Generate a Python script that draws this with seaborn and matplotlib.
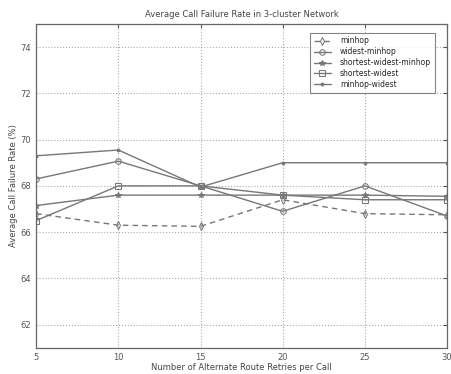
import matplotlib
matplotlib.use("Agg")
import matplotlib.pyplot as plt
import seaborn as sns
import pandas as pd

retries = [5, 10, 15, 20, 25, 30]

minhop = [66.8, 66.3, 66.25, 67.4, 66.8, 66.75]
widest_minhop = [68.3, 69.07, 68.0, 66.9, 68.0, 66.7]
shortest_widest_minhop = [67.15, 67.6, 67.6, 67.6, 67.6, 67.55]
shortest_widest = [66.5, 68.0, 68.0, 67.6, 67.4, 67.4]
minhop_widest = [69.3, 69.55, 67.95, 69.0, 69.0, 69.0]

series_names = ["minhop", "widest-minhop", "shortest-widest-minhop",
                "shortest-widest", "minhop-widest"]
series_values = [minhop, widest_minhop, shortest_widest_minhop,
                 shortest_widest, minhop_widest]

y_ticks = [62, 64, 66, 68, 70, 72, 74]

rows = []
for name, values in zip(series_names, series_values):
    for x, y in zip(retries, values):
        rows.append({"retries": x, "rate": y, "scheme": name})
df = pd.DataFrame(rows)

sns.set_style("white")
plt.rcParams["font.family"] = ["DejaVu Sans"]

fig = plt.figure(figsize=(4.52, 3.74), dpi=100)
ax = fig.add_axes([0.080, 0.070, 0.909, 0.866])

line_color = "#777777"
palette = {n: line_color for n in series_names}
markers = {"minhop": "d", "widest-minhop": "o", "shortest-widest-minhop": "*",
           "shortest-widest": "s", "minhop-widest": "."}
dashes = {"minhop": (4, 3), "widest-minhop": "", "shortest-widest-minhop": "",
          "shortest-widest": "", "minhop-widest": ""}

sns.lineplot(data=df, x="retries", y="rate", hue="scheme", style="scheme",
             hue_order=series_names, style_order=series_names,
             palette=palette, markers=markers, dashes=dashes,
             markersize=4, linewidth=1.0, ax=ax)

# open markers like the original
for ln in ax.lines:
    if ln.get_marker() in ("d", "o", "s"):
        ln.set_markerfacecolor("none")
    ln.set_markeredgecolor(line_color)

ax.set_xlim(5, 30)
ax.set_ylim(61, 75)
ax.set_xticks(retries)
ax.set_yticks(y_ticks)
ax.tick_params(direction="in", labelsize=6, length=3, top=True, right=True,
               colors="#555555")
ax.grid(True, linestyle=":", color="#aaaaaa", linewidth=0.8)
for s in ax.spines.values():
    s.set_color("#666666")
    s.set_linewidth(0.9)

ax.set_title("Average Call Failure Rate in 3-cluster Network", fontsize=6,
             color="#444444", pad=5)
ax.set_xlabel("Number of Alternate Route Retries per Call", fontsize=6,
              color="#444444", labelpad=1)
ax.set_ylabel("Average Call Failure Rate (%)", fontsize=6, color="#444444",
              labelpad=2)

leg = ax.legend(loc="upper right", fontsize=5.5, frameon=True, fancybox=False,
                edgecolor="#666666", handlelength=2.2, borderpad=0.5,
                labelspacing=0.25, handletextpad=1.2,
                bbox_to_anchor=(0.98, 0.985))
leg.get_frame().set_linewidth(0.8)
for h in leg.legend_handles:
    if h.get_marker() in ("d", "o", "s"):
        h.set_markerfacecolor("none")

fig.savefig("out.png", dpi=100)
